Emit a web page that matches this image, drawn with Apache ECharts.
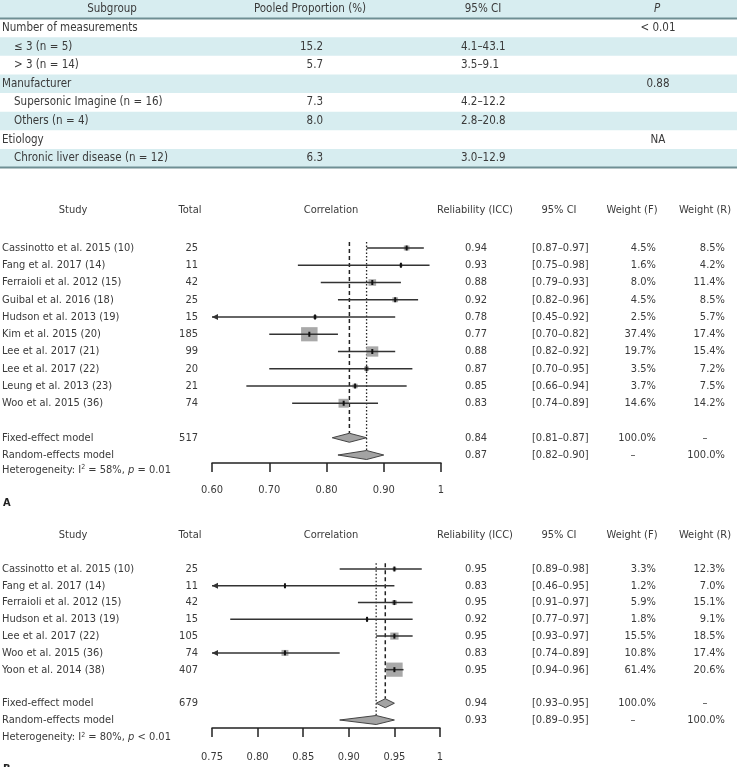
<!DOCTYPE html>
<html>
<head>
<meta charset="utf-8">
<script src="https://cdn.jsdelivr.net/npm/echarts@6/dist/echarts.min.js"></script>
<style>
  html, body { margin: 0; padding: 0; background: #fff; }
  #chart { width: 737px; height: 767px; }
</style>
</head>
<body>
<div id="chart"></div>
<script>
// ---- subgroup table ----
const tableHeader = ['Subgroup', 'Pooled Proportion (%)', '95% CI', 'P']
const subgroups = ['Number of measurements', '≤ 3 (n = 5)', '> 3 (n = 14)', 'Manufacturer',
  'Supersonic Imagine (n = 16)', 'Others (n = 4)', 'Etiology', 'Chronic liver disease (n = 12)']
const subgroupIndent = [0, 1, 1, 0, 1, 1, 0, 1]
const pooledProportion = ['', '15.2', '5.7', '', '7.3', '8.0', '', '6.3']
const pooledCI = ['', '4.1–43.1', '3.5–9.1', '', '4.2–12.2', '2.8–20.8', '', '3.0–12.9']
const pValues = ['< 0.01', '', '', '0.88', '', '', 'NA', '']

// ---- forest plot A ----
const studiesA = ['Cassinotto et al. 2015 (10)', 'Fang et al. 2017 (14)', 'Ferraioli et al. 2012 (15)',
  'Guibal et al. 2016 (18)', 'Hudson et al. 2013 (19)', 'Kim et al. 2015 (20)', 'Lee et al. 2017 (21)',
  'Lee et al. 2017 (22)', 'Leung et al. 2013 (23)', 'Woo et al. 2015 (36)']
const totalA = [25, 11, 42, 25, 15, 185, 99, 20, 21, 74]
const iccA = [0.94, 0.93, 0.88, 0.92, 0.78, 0.77, 0.88, 0.87, 0.85, 0.83]
const lowA = [0.87, 0.75, 0.79, 0.82, 0.45, 0.70, 0.82, 0.70, 0.66, 0.74]
const highA = [0.97, 0.98, 0.93, 0.96, 0.92, 0.82, 0.92, 0.95, 0.94, 0.89]
const weightFA = [4.5, 1.6, 8.0, 4.5, 2.5, 37.4, 19.7, 3.5, 3.7, 14.6]
const weightRA = [8.5, 4.2, 11.4, 8.5, 5.7, 17.4, 15.4, 7.2, 7.5, 14.2]
const fixedA = [0.84, 0.81, 0.87]
const randomA = [0.87, 0.82, 0.90]
const totalAllA = 517
const hetA = ['58%', '= 0.01']
const ticksA = ['0.60', '0.70', '0.80', '0.90', '1']

// ---- forest plot B ----
const studiesB = ['Cassinotto et al. 2015 (10)', 'Fang et al. 2017 (14)', 'Ferraioli et al. 2012 (15)',
  'Hudson et al. 2013 (19)', 'Lee et al. 2017 (22)', 'Woo et al. 2015 (36)', 'Yoon et al. 2014 (38)']
const totalB = [25, 11, 42, 15, 105, 74, 407]
const iccB = [0.95, 0.83, 0.95, 0.92, 0.95, 0.83, 0.95]
const lowB = [0.89, 0.46, 0.91, 0.77, 0.93, 0.74, 0.94]
const highB = [0.98, 0.95, 0.97, 0.97, 0.97, 0.89, 0.96]
const weightFB = [3.3, 1.2, 5.9, 1.8, 15.5, 10.8, 61.4]
const weightRB = [12.3, 7.0, 15.1, 9.1, 18.5, 17.4, 20.6]
const fixedB = [0.94, 0.93, 0.95]
const randomB = [0.93, 0.89, 0.95]
const totalAllB = 679
const hetB = ['80%', '< 0.01']
const ticksB = ['0.75', '0.80', '0.85', '0.90', '0.95', '1']

const forestHeader = ['Study', 'Total', 'Correlation', 'Reliability (ICC)', '95% CI', 'Weight (F)', 'Weight (R)']

const FONT = '"Liberation Sans Narrow", "DejaVu Sans Condensed", sans-serif'
const TXT = '#3a3a3a'
const BAND = '#d7edf0'
const FS = 11
const FS_TABLE = 11.5

function txt(text, x, y, align, extra) {
  return {
    type: 'text',
    style: Object.assign({
      text: text, x: x, y: y, align: align || 'left', verticalAlign: 'middle',
      fill: TXT, fontSize: FS, fontFamily: FONT
    }, extra || {})
  }
}

const chart = echarts.init(document.getElementById('chart'))

// table (grid 0)
const tableSeries = {
  type: 'custom',
  xAxisIndex: 0,
  yAxisIndex: 0,
  clip: false,
  silent: true,
  data: [0, 1, 2, 3, 4, 5, 6, 7, 8].map(r => [0, r]),
  renderItem: function (params, api) {
    const r = api.value(1)
    const y = api.coord([0, r])[1]
    const h = api.size([0, 1])[1]
    const big = { fontSize: FS_TABLE }
    const ch = []
    if (r % 2 === 0) {
      ch.push({ type: 'rect', shape: { x: 0, y: y - h / 2, width: 737, height: h }, style: { fill: BAND } })
    }
    if (r === 0) {
      ch.push(txt(tableHeader[0], 112, y, 'center', big))
      ch.push(txt(tableHeader[1], 310, y, 'center', big))
      ch.push(txt(tableHeader[2], 483, y, 'center', big))
      ch.push(txt(tableHeader[3], 657, y, 'center', { fontSize: FS_TABLE, fontStyle: 'italic' }))
      ch.push({ type: 'line', shape: { x1: 0, y1: y + h / 2, x2: 737, y2: y + h / 2 }, style: { stroke: '#6f8f94', lineWidth: 2 } })
    } else {
      const i = r - 1
      ch.push(txt(subgroups[i], subgroupIndent[i] ? 14 : 2, y, 'left', big))
      ch.push(txt(pooledProportion[i], 323, y, 'right', big))
      ch.push(txt(pooledCI[i], 461, y, 'left', big))
      ch.push(txt(pValues[i], 658, y, 'center', big))
      if (r === 8) {
        ch.push({ type: 'line', shape: { x1: 0, y1: y + h / 2, x2: 737, y2: y + h / 2 }, style: { stroke: '#6f8f94', lineWidth: 2 } })
      }
    }
    return { type: 'group', children: ch }
  }
}

function makeForest(p) {
  const n = p.names.length
  const maxW = Math.max.apply(null, p.wF)
  const pct = v => v.toFixed(1) + '%'
  const ciText = (lo, hi) => '[' + lo.toFixed(2) + '–' + hi.toFixed(2) + ']'
  const base = { type: 'custom', xAxisIndex: p.grid, yAxisIndex: p.grid, clip: false, silent: true }

  // dashed = fixed-effect estimate, dotted = random-effects estimate
  const refs = Object.assign({}, base, {
    z: 1,
    data: [[p.fixed[0], n + 1, 0], [p.random[0], n + 2, 1]],
    renderItem: function (params, api) {
      const top = api.coord([api.value(0), -0.35])
      const bot = api.coord([api.value(0), api.value(1)])
      const dotted = api.value(2) === 1
      return {
        type: 'line',
        shape: { x1: top[0], y1: top[1], x2: bot[0], y2: bot[1] - 4.5 },
        style: { stroke: '#222', lineWidth: dotted ? 1.3 : 1.5, lineDash: dotted ? [1.5, 2] : [4, 3] }
      }
    }
  })

  const rows = Object.assign({}, base, {
    z: 2,
    data: p.names.map((_, i) => [p.icc[i], i]),
    renderItem: function (params, api) {
      const i = params.dataIndex
      const pt = api.coord([p.icc[i], i])
      const lo = api.coord([Math.max(p.low[i], p.min), i])
      const hi = api.coord([p.high[i], i])
      const y = pt[1]
      const s = 16.5 * Math.sqrt(p.wF[i] / maxW)
      const ch = [
        { type: 'rect', shape: { x: pt[0] - s / 2, y: y - s * 0.43, width: s, height: s * 0.86 }, style: { fill: '#a9a9a9' } },
        { type: 'line', shape: { x1: lo[0], y1: y, x2: hi[0], y2: y }, style: { stroke: '#333', lineWidth: 1.5 } },
        { type: 'line', shape: { x1: pt[0], y1: y - 2.5, x2: pt[0], y2: y + 2.5 }, style: { stroke: '#111', lineWidth: 2 } }
      ]
      if (p.low[i] < p.min) {
        ch.push({ type: 'polygon', shape: { points: [[lo[0], y], [lo[0] + 6, y - 3], [lo[0] + 6, y + 3]] }, style: { fill: '#333' } })
      }
      ch.push(txt(p.names[i], 2, y, 'left'))
      ch.push(txt(String(p.totals[i]), 198, y, 'right'))
      ch.push(txt(p.icc[i].toFixed(2), 465, y, 'left'))
      ch.push(txt(ciText(p.low[i], p.high[i]), 532, y, 'left'))
      ch.push(txt(pct(p.wF[i]), 656, y, 'right'))
      ch.push(txt(pct(p.wR[i]), 725, y, 'right'))
      return { type: 'group', children: ch }
    }
  })

  const summary = Object.assign({}, base, {
    z: 3,
    data: [[p.fixed[0], n + 1], [p.random[0], n + 2]],
    renderItem: function (params, api) {
      const k = params.dataIndex
      const est = k === 0 ? p.fixed : p.random
      const row = api.value(1)
      const c = api.coord([est[0], row])
      const l = api.coord([est[1], row])
      const r = api.coord([est[2], row])
      const y = c[1]
      const ch = [
        { type: 'polygon', shape: { points: [[l[0], y], [c[0], y - 4.5], [r[0], y], [c[0], y + 4.5]] }, style: { fill: '#a3a3a3', stroke: '#444', lineWidth: 1 } },
        txt(k === 0 ? 'Fixed-effect model' : 'Random-effects model', 2, y, 'left'),
        txt(est[0].toFixed(2), 465, y, 'left'),
        txt(ciText(est[1], est[2]), 532, y, 'left')
      ]
      if (k === 0) {
        ch.push(txt(String(p.totalAll), 198, y, 'right'))
        ch.push(txt('100.0%', 656, y, 'right'))
        ch.push(txt('–', 705, y, 'center'))
      } else {
        ch.push(txt('–', 633, y, 'center'))
        ch.push(txt('100.0%', 725, y, 'right'))
      }
      return { type: 'group', children: ch }
    }
  })

  const labels = Object.assign({}, base, {
    z: 3,
    data: [[p.min, p.headerRow], [p.min, p.hetRow], [p.min, p.letterRow]],
    renderItem: function (params, api) {
      const k = params.dataIndex
      const y = api.coord([api.value(0), api.value(1)])[1]
      if (k === 0) {
        const xs = [73, 190, 331, 475, 559, 632, 705]
        return { type: 'group', children: forestHeader.map((h, j) => txt(h, xs[j], y, 'center')) }
      }
      if (k === 1) {
        return txt('Heterogeneity: I{sup|2} = ' + p.het[0] + ', {it|p} ' + p.het[1], 2, y, 'left', {
          rich: {
            sup: { fontSize: 7, verticalAlign: 'top', fill: TXT, fontFamily: FONT },
            it: { fontStyle: 'italic', fontSize: FS, fill: TXT, fontFamily: FONT }
          }
        })
      }
      return txt(p.letter, 3, y, 'left', { fontWeight: 'bold', fontSize: 11, fill: '#222' })
    }
  })

  return [refs, rows, summary, labels]
}

const forestA = makeForest({
  grid: 1, names: studiesA, totals: totalA, icc: iccA, low: lowA, high: highA,
  wF: weightFA, wR: weightRA, fixed: fixedA, random: randomA, totalAll: totalAllA,
  het: hetA, min: 0.6, headerRow: -2.2, hetRow: 12.85, letterRow: 14.8, letter: 'A'
})
const forestB = makeForest({
  grid: 2, names: studiesB, totals: totalB, icc: iccB, low: lowB, high: highB,
  wF: weightFB, wR: weightRB, fixed: fixedB, random: randomB, totalAll: totalAllB,
  het: hetB, min: 0.75, headerRow: -2.0, hetRow: 10.05, letterRow: 11.95, letter: 'B'
})

function valueXAxis(grid, min, max, interval, labels, margin) {
  return {
    gridIndex: grid, type: 'value', position: 'bottom', min: min, max: max, interval: interval, offset: 8,
    axisLine: { show: true, onZero: false, lineStyle: { color: '#222', width: 1.5 } },
    axisTick: { show: true, inside: false, length: 9, lineStyle: { color: '#222', width: 1.5 } },
    axisLabel: {
      margin: margin, color: TXT, fontSize: FS, fontFamily: FONT,
      formatter: v => labels[Math.round((v - min) / interval)]
    },
    splitLine: { show: false }
  }
}

chart.setOption({
  animation: false,
  backgroundColor: '#fff',
  grid: [
    { left: 0, width: 737, top: -4.7, height: 172.3 },
    { left: 212, width: 229, top: 248, height: 207 },
    { left: 212, width: 228, top: 569, height: 151 }
  ],
  xAxis: [
    { gridIndex: 0, type: 'value', min: 0, max: 1, show: false },
    valueXAxis(1, 0.6, 1, 0.1, ticksA, 22),
    valueXAxis(2, 0.75, 1, 0.05, ticksB, 24)
  ],
  yAxis: [
    { gridIndex: 0, type: 'value', min: -0.5, max: 8.5, inverse: true, show: false },
    { gridIndex: 1, type: 'value', min: 0, max: 12, inverse: true, show: false },
    { gridIndex: 2, type: 'value', min: 0, max: 9, inverse: true, show: false }
  ],
  series: [tableSeries].concat(forestA, forestB)
})
</script>
</body>
</html>
